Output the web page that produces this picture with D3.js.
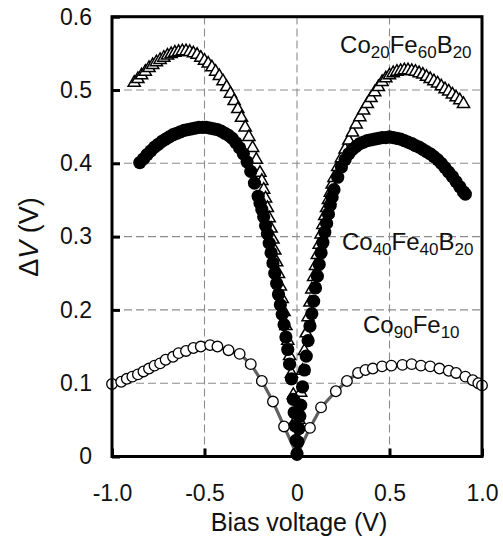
<!DOCTYPE html>
<html>
<head>
<meta charset="utf-8">
<script src="https://cdn.jsdelivr.net/npm/d3@7"></script>
<style>
  body { margin: 0; background: #fff; }
  svg { display: block; font-family: "Liberation Sans", Arial, sans-serif; }
</style>
</head>
<body>
<svg id="canvas" width="503" height="541"></svg>
<script>
const xTicks = [-1, -0.5, 0, 0.5, 1];
const yTicks = [0, 0.1, 0.2, 0.3, 0.4, 0.5, 0.6];
const gridX = [-0.5, 0, 0.5];
const gridY = [0.1, 0.2, 0.3, 0.4, 0.5];

// Co20Fe60B20 (open triangles)
const biasA = [-0.88, -0.86, -0.84, -0.82, -0.80, -0.78, -0.76, -0.74, -0.72, -0.70,
  -0.68, -0.66, -0.64, -0.62, -0.60, -0.58, -0.56, -0.54, -0.52, -0.50,
  -0.48, -0.46, -0.44, -0.42, -0.40, -0.38, -0.36, -0.34, -0.32, -0.30,
  -0.28, -0.26, -0.24, -0.22, -0.20,
  -0.19, -0.18, -0.17, -0.16, -0.15, -0.14, -0.13, -0.12, -0.11, -0.10,
  -0.09, -0.08, -0.07, -0.06, -0.05, -0.04, -0.03, -0.02, -0.01, 0,
  0.01, 0.02, 0.03, 0.04, 0.05, 0.06, 0.07, 0.08, 0.09, 0.10,
  0.11, 0.12, 0.13, 0.14, 0.15, 0.16, 0.17, 0.18, 0.19, 0.20,
  0.22, 0.24, 0.26, 0.28, 0.30, 0.32, 0.34, 0.36, 0.38, 0.40,
  0.42, 0.44, 0.46, 0.48, 0.50, 0.52, 0.54, 0.56, 0.58, 0.60,
  0.62, 0.64, 0.66, 0.68, 0.70, 0.72, 0.74, 0.76, 0.78, 0.80,
  0.82, 0.84, 0.86, 0.88, 0.90];
const dvA = [0.510, 0.515, 0.520, 0.525, 0.530, 0.534, 0.538, 0.541, 0.544, 0.547,
  0.549, 0.551, 0.552, 0.553, 0.553, 0.552, 0.550, 0.548, 0.544, 0.540,
  0.536, 0.531, 0.525, 0.519, 0.512, 0.504, 0.495, 0.485, 0.474, 0.462,
  0.449, 0.436, 0.421, 0.405, 0.387,
  0.376, 0.364, 0.352, 0.339, 0.325, 0.311, 0.296, 0.281, 0.265, 0.249,
  0.232, 0.215, 0.197, 0.178, 0.158, 0.137, 0.113, 0.084, 0.048, 0.005,
  0.050, 0.087, 0.117, 0.144, 0.168, 0.190, 0.210, 0.228, 0.245, 0.260,
  0.275, 0.289, 0.303, 0.316, 0.328, 0.339, 0.350, 0.360, 0.371, 0.380,
  0.395, 0.407, 0.419, 0.431, 0.442, 0.453, 0.463, 0.472, 0.481, 0.489,
  0.497, 0.504, 0.511, 0.516, 0.520, 0.523, 0.525, 0.526, 0.527, 0.527,
  0.526, 0.525, 0.523, 0.521, 0.518, 0.515, 0.512, 0.509, 0.505, 0.501,
  0.498, 0.494, 0.490, 0.486, 0.481];

// Co40Fe40B20 (filled circles)
const biasB = [-0.85, -0.83, -0.81, -0.79, -0.77, -0.75, -0.73, -0.71, -0.69, -0.67,
  -0.65, -0.63, -0.61, -0.59, -0.57, -0.55, -0.53, -0.51, -0.49, -0.47,
  -0.45, -0.43, -0.41, -0.39, -0.37, -0.35, -0.33, -0.31, -0.29, -0.27,
  -0.25, -0.23, -0.21,
  -0.20, -0.19, -0.18, -0.17, -0.16, -0.15, -0.14, -0.13, -0.12, -0.11,
  -0.10, -0.09, -0.08, -0.07, -0.06, -0.05, -0.04, -0.03, -0.02,
  -0.015, -0.01, -0.005, 0, 0.005, 0.01, 0.015,
  0.02, 0.03, 0.04, 0.05, 0.06, 0.07, 0.08, 0.09, 0.10, 0.11,
  0.12, 0.13, 0.14, 0.15, 0.16, 0.17, 0.18, 0.19, 0.20,
  0.22, 0.24, 0.26, 0.28, 0.30, 0.32, 0.34, 0.36, 0.38, 0.40,
  0.42, 0.44, 0.46, 0.48, 0.50, 0.52, 0.54, 0.56, 0.58, 0.60,
  0.62, 0.64, 0.66, 0.68, 0.70, 0.72, 0.74, 0.76, 0.78, 0.80,
  0.82, 0.84, 0.86, 0.88, 0.90, 0.91];
const dvB = [0.401, 0.406, 0.412, 0.417, 0.422, 0.426, 0.430, 0.433, 0.436, 0.439,
  0.441, 0.443, 0.445, 0.446, 0.447, 0.448, 0.449, 0.449, 0.449, 0.448,
  0.447, 0.446, 0.444, 0.441, 0.438, 0.434, 0.428, 0.421, 0.413, 0.402,
  0.389, 0.373, 0.355,
  0.346, 0.337, 0.327, 0.315, 0.304, 0.291, 0.278, 0.264, 0.250, 0.236,
  0.221, 0.207, 0.194, 0.180, 0.163, 0.146, 0.126, 0.106, 0.078,
  0.060, 0.042, 0.022, 0.004, 0.020, 0.038, 0.055,
  0.070, 0.095, 0.118, 0.137, 0.158, 0.178, 0.195, 0.212, 0.230, 0.246,
  0.262, 0.278, 0.292, 0.306, 0.318, 0.331, 0.343, 0.354, 0.364,
  0.381, 0.395, 0.405, 0.413, 0.419, 0.423, 0.427, 0.429, 0.431, 0.432,
  0.433, 0.434, 0.435, 0.435, 0.436, 0.435, 0.434, 0.433, 0.431, 0.429,
  0.427, 0.424, 0.422, 0.419, 0.416, 0.413, 0.409, 0.405, 0.400, 0.394,
  0.388, 0.382, 0.375, 0.368, 0.361, 0.358];

// Co90Fe10 (open circles + grey line)
const biasC = [-1.00, -0.95, -0.92, -0.89, -0.86, -0.83, -0.80, -0.77, -0.74, -0.71,
  -0.67, -0.64, -0.60, -0.56, -0.52, -0.47, -0.43, -0.37, -0.31, -0.25,
  -0.19, -0.13, -0.07, 0, 0.07, 0.13, 0.21, 0.27, 0.33, 0.37,
  0.41, 0.46, 0.51, 0.57, 0.62, 0.67, 0.72, 0.77, 0.82, 0.86,
  0.91, 0.95, 0.98, 1.00];
const dvC = [0.099, 0.102, 0.106, 0.109, 0.112, 0.116, 0.120, 0.124, 0.127, 0.132,
  0.136, 0.141, 0.144, 0.148, 0.150, 0.152, 0.150, 0.145, 0.140, 0.126,
  0.103, 0.075, 0.041, 0.002, 0.039, 0.067, 0.089, 0.103, 0.114, 0.118,
  0.120, 0.123, 0.124, 0.125, 0.126, 0.124, 0.123, 0.120, 0.117, 0.114,
  0.109, 0.104, 0.100, 0.097];

// series labels: [main, sub, main, sub, ...], anchor in data coords
const labels = [
  { parts: ["Co", "20", "Fe", "60", "B", "20"], v: 0.233, dv: 0.550 },
  { parts: ["Co", "40", "Fe", "40", "B", "20"], v: 0.243, dv: 0.282 },
  { parts: ["Co", "90", "Fe", "10"], v: 0.357, dv: 0.168 },
];

const settings = {
  padding: { left: 112, top: 16.7, right: 21, bottom: 84.5 },
  width: 503,
  height: 541,
};

function graph() {
  const svg = d3.select('#canvas');
  const p = settings.padding;

  const x = d3.scaleLinear()
    .domain([-1, 1])
    .range([p.left, settings.width - p.right]);
  const y = d3.scaleLinear()
    .domain([0, 0.6])
    .range([settings.height - p.bottom, p.top]);

  // plain hyphen for negatives, "0" without decimals
  const fmt = d => d === 0 ? "0" : d.toFixed(1);

  // dashed grid
  const grid = svg.append("g").attr("stroke", "#8c8c8c").attr("stroke-width", 1.1)
    .attr("stroke-dasharray", "8,4");
  grid.selectAll("line.gx").data(gridX).join("line")
    .attr("x1", d => x(d)).attr("x2", d => x(d))
    .attr("y1", y(0)).attr("y2", y(0.6));
  grid.selectAll("line.gy").data(gridY).join("line")
    .attr("x1", x(-1)).attr("x2", x(1))
    .attr("y1", d => y(d)).attr("y2", d => y(d));

  // axes (ticks inward)
  const xAxis = svg.append("g")
    .attr("transform", `translate(0,${y(0)})`)
    .call(d3.axisBottom(x).tickValues(xTicks).tickFormat(fmt).tickSize(-8).tickPadding(28));
  const yAxis = svg.append("g")
    .attr("transform", `translate(${x(-1)},0)`)
    .call(d3.axisLeft(y).tickValues(yTicks).tickFormat(fmt).tickSize(-8).tickPadding(20));
  [xAxis, yAxis].forEach(a => {
    a.select(".domain").remove();
    a.selectAll("line").attr("stroke", "#000").attr("stroke-width", 3);
    a.selectAll("text").attr("fill", "#111").style("font-size", "23px")
      .style("font-family", '"Liberation Sans", Arial, sans-serif');
  });

  // Co90Fe10 line + open circles
  const ptsC = d3.zip(biasC, dvC);
  svg.append("path")
    .datum(ptsC)
    .attr("fill", "none")
    .attr("stroke", "#606060")
    .attr("stroke-width", 3.2)
    .attr("d", d3.line().x(d => x(d[0])).y(d => y(d[1])));
  svg.append("g").selectAll("circle")
    .data(ptsC).join("circle")
    .attr("cx", d => x(d[0])).attr("cy", d => y(d[1])).attr("r", 5.3)
    .attr("fill", "#fff").attr("stroke", "#000").attr("stroke-width", 1.3);

  // Co20Fe60B20 triangles
  const tri = d3.symbol(d3.symbolTriangle, 64);
  svg.append("g").selectAll("path")
    .data(d3.zip(biasA, dvA)).join("path")
    .attr("transform", d => `translate(${x(d[0])},${y(d[1])})`)
    .attr("d", tri)
    .attr("fill", "#fff").attr("stroke", "#000").attr("stroke-width", 1.5);

  // Co40Fe40B20 filled circles
  svg.append("g").selectAll("circle")
    .data(d3.zip(biasB, dvB)).join("circle")
    .attr("cx", d => x(d[0])).attr("cy", d => y(d[1])).attr("r", 6.6)
    .attr("fill", "#000");

  // frame
  svg.append("rect")
    .attr("x", x(-1)).attr("y", y(0.6))
    .attr("width", x(1) - x(-1)).attr("height", y(0) - y(0.6))
    .attr("fill", "none").attr("stroke", "#000").attr("stroke-width", 3);

  // series labels with subscripts
  labels.forEach(l => {
    const t = svg.append("text")
      .attr("x", x(l.v)).attr("y", y(l.dv))
      .attr("fill", "#111").style("font-size", "24px");
    l.parts.forEach((s, i) => {
      const sub = i % 2 === 1;
      t.append("tspan")
        .attr("dy", i === 0 ? 0 : (sub ? 5 : -5))
        .style("font-size", sub ? "17px" : "24px")
        .text(s);
    });
  });

  // axis titles
  svg.append("text")
    .attr("x", 299).attr("y", 531)
    .attr("text-anchor", "middle")
    .attr("fill", "#111").style("font-size", "25px")
    .text("Bias voltage (V)");

  const yt = svg.append("text")
    .attr("transform", "translate(38,237) rotate(-90)")
    .attr("text-anchor", "middle")
    .attr("fill", "#111").style("font-size", "27px");
  yt.append("tspan").text("Δ");
  yt.append("tspan").style("font-style", "italic").text("V");
  yt.append("tspan").text(" (V)");
}

graph();
</script>
</body>
</html>
